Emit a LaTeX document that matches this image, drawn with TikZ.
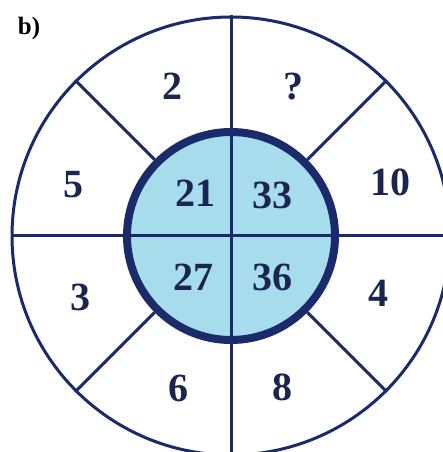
\documentclass[tikz,border=0pt]{standalone}
\usepackage{fontspec}
\setmainfont{Liberation Serif}
\usetikzlibrary{positioning}

\definecolor{ringline}{HTML}{1B2A6B}
\definecolor{ringtext}{HTML}{1A2650}
\definecolor{corefill}{HTML}{A6DCEC}

\begin{document}
\begin{tikzpicture}[
  x=1pt,y=1pt,
  every node/.style={font=\fontsize{40}{40}\selectfont\bfseries,text=ringtext},
  ring node/.style={circle,draw=ringline,line width=3pt,minimum size=438pt,inner sep=0pt},
  core node/.style={circle,draw=ringline,line width=6pt,fill=corefill,minimum size=210pt,inner sep=0pt},
  spoke/.style={draw=ringline,line width=3pt},
  num/.style={inner sep=0pt},
]
\useasboundingbox (0,0) rectangle (443,452);
\clip (0,0) rectangle (443,452);
\node[ring node] (ring) at (231,216) {};
\node[core node] (core) at (231,216) {};
% spokes between the two circles
\draw[spoke] (core.45) -- (ring.45);
\draw[spoke] (core.135) -- (ring.135);
\draw[spoke] (core.225) -- (ring.225);
\draw[spoke] (core.315) -- (ring.315);
% the cross through the middle
\draw[spoke] (ring.90) -- (ring.270);
\draw[spoke] (ring.180) -- (ring.0);
\draw[draw=ringline,line width=6pt] (core.center) circle (103pt);
% outer numbers
\node[num] (n2) at (172,366) {2};
\node[num] (nq) at (293,365) {?};
\node[num] (n5) at (73,267) {5};
\node[num] (n10) at (390,270) {10};
\node[num] (n3) at (80,155) {3};
\node[num] (n4) at (378,159) {4};
\node[num] (n6) at (178,64) {6};
\node[num] (n8) at (282,65) {8};
% inner numbers
\node[num] (c21) at (195,259) {21};
\node[num] (c33) at (272,257) {33};
\node[num] (c27) at (193,175) {27};
\node[num] (c36) at (272,175) {36};
\node[font=\fontsize{25}{25}\selectfont\bfseries,text=black] (lbl) at (29,424) {b)};
\end{tikzpicture}
\end{document}
